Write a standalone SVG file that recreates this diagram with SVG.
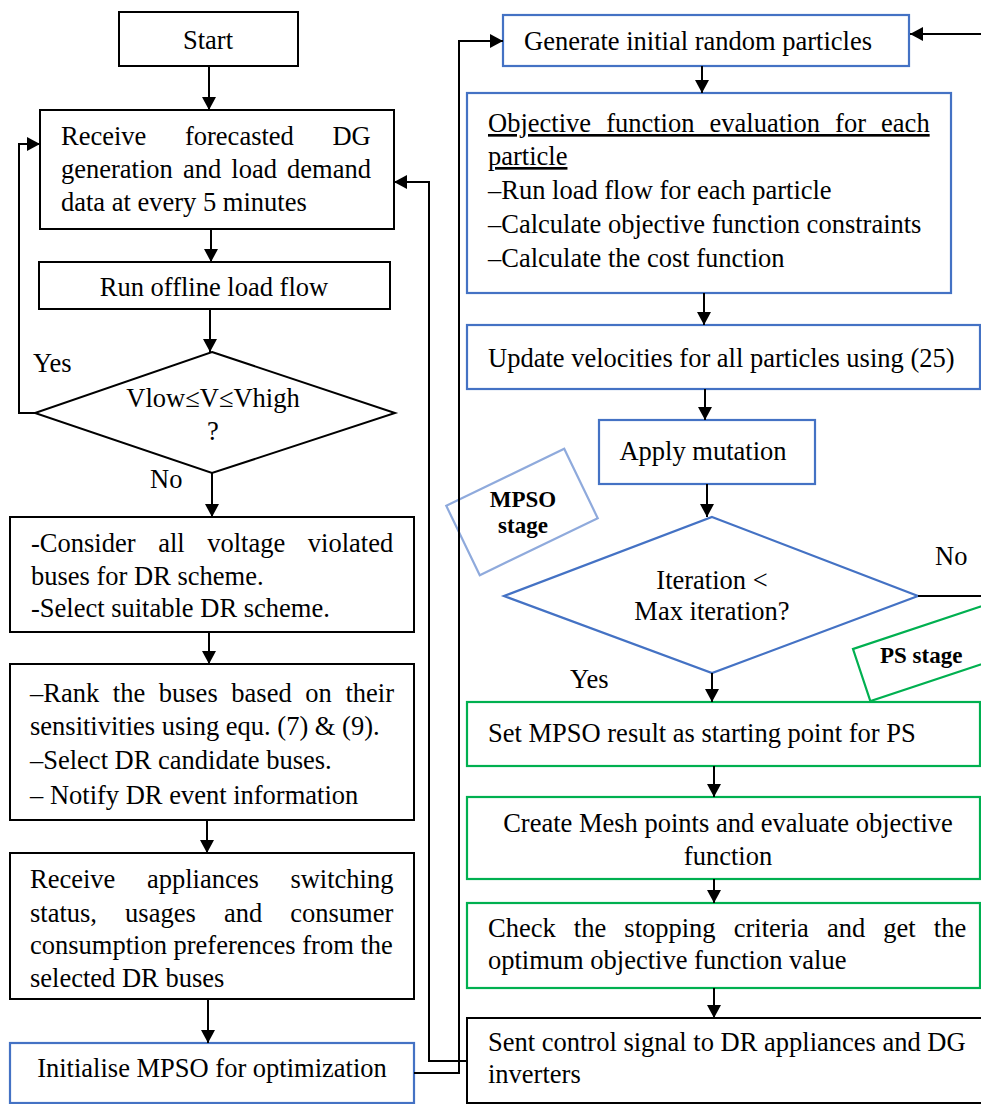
<svg xmlns="http://www.w3.org/2000/svg" width="981" height="1104" viewBox="0 0 981 1104">
<style>
text{font-family:"Liberation Serif","Times New Roman",serif;font-size:26.5px;fill:#000}
.c{text-anchor:middle}
.b{font-weight:bold;font-size:23px}
.u{text-decoration:underline}
.bk{fill:#fff;stroke:#000;stroke-width:2}
.bl{fill:#fff;stroke:#4472C4;stroke-width:2.2}
.gr{fill:#fff;stroke:#00B050;stroke-width:2.2}
.lb{fill:none;stroke:#8FAADC;stroke-width:2.2}
.pg{fill:none;stroke:#00B050;stroke-width:2.2}
.ln{fill:none;stroke:#000;stroke-width:2}
</style>
<defs>
<marker id="ah" markerUnits="userSpaceOnUse" markerWidth="14" markerHeight="14" refX="13" refY="7" orient="auto">
<path d="M0,0 L13,7 L0,14 z" fill="#000"/>
</marker>
</defs>

<g id="start"><rect class="bk" x="119" y="12" width="179" height="54"/><text class="c" x="208" y="49">Start</text></g>

<g id="receive"><rect class="bk" x="40" y="110" width="354" height="119"/>
<text x="61" y="145" word-spacing="32">Receive forecasted DG</text>
<text x="61" y="178" word-spacing="3.5">generation and load demand</text>
<text x="61" y="211">data at every 5 minutes</text></g>

<g id="runflow"><rect class="bk" x="39" y="262" width="351" height="47"/><text class="c" x="214" y="296">Run offline load flow</text></g>

<g id="decision1"><polygon class="bk" points="212,352 395,413 212,473 35,413"/>
<text class="c" x="213" y="407">Vlow≤V≤Vhigh</text><text class="c" x="213" y="440">?</text></g>

<g id="consider"><rect class="bk" x="10" y="517" width="404" height="115"/>
<text x="31" y="552" word-spacing="16">-Consider all voltage violated</text>
<text x="31" y="585">buses for DR scheme.</text>
<text x="31" y="617">-Select suitable DR scheme.</text></g>

<g id="rank"><rect class="bk" x="10" y="664" width="404" height="156"/>
<text x="30" y="702" word-spacing="7">–Rank the buses based on their</text>
<text x="30" y="735">sensitivities using equ. (7) &amp; (9).</text>
<text x="30" y="769">–Select DR candidate buses.</text>
<text x="30" y="804">– Notify DR event information</text></g>

<g id="appliances"><rect class="bk" x="10" y="853" width="404" height="146"/>
<text x="30" y="888" word-spacing="25">Receive appliances switching</text>
<text x="30" y="922" word-spacing="21.5">status, usages and consumer</text>
<text x="30" y="954">consumption preferences from the</text>
<text x="30" y="987">selected DR buses</text></g>

<g id="initialise"><rect class="bl" x="10" y="1043" width="404" height="60"/><text class="c" x="212" y="1077">Initialise MPSO for optimization</text></g>

<g id="generate"><rect class="bl" x="503" y="15" width="406" height="51"/><text x="524" y="50">Generate initial random particles</text></g>

<g id="objective"><rect class="bl" x="467" y="93" width="484" height="200"/>
<text class="u" x="488" y="132" word-spacing="8.5">Objective function evaluation for each</text>
<text class="u" x="488" y="165">particle</text>
<text x="488" y="199">–Run load flow for each particle</text>
<text x="488" y="233">–Calculate objective function constraints</text>
<text x="488" y="267">–Calculate the cost function</text></g>

<g id="update"><rect class="bl" x="467" y="325" width="513" height="64"/><text x="488" y="367">Update velocities for all particles using (25)</text></g>

<g id="mutation"><rect class="bl" x="599" y="420" width="216" height="64"/><text class="c" x="703" y="460">Apply mutation</text></g>

<g id="mpso-stage"><rect class="lb" x="-65.5" y="-38.5" width="131" height="77" transform="translate(522,512) rotate(-25.8)"/>
<text class="c b" x="523" y="507">MPSO</text><text class="c b" x="523" y="533">stage</text></g>

<g id="decision2"><polygon class="bl" points="712,517 918,596 712,673 504,596"/>
<text class="c" x="712" y="589">Iteration &lt;</text><text class="c" x="712" y="620">Max iteration?</text></g>

<g id="ps-stage"><rect class="pg" x="0" y="0" width="145" height="55" transform="translate(853,649) rotate(-18.4)"/>
<text class="b" x="880" y="663">PS stage</text></g>

<g id="setmpso"><rect class="gr" x="467" y="702" width="513" height="64"/><text x="488" y="742">Set MPSO result as starting point for PS</text></g>

<g id="mesh"><rect class="gr" x="467" y="797" width="513" height="82"/>
<text class="c" x="728" y="832">Create Mesh points and evaluate objective</text>
<text class="c" x="728" y="865">function</text></g>

<g id="check"><rect class="gr" x="467" y="903" width="513" height="85"/>
<text x="488" y="937" word-spacing="11.5">Check the stopping criteria and get the</text>
<text x="488" y="969">optimum objective function value</text></g>

<g id="sent"><rect class="bk" x="467" y="1018" width="520" height="85"/>
<text x="488" y="1051">Sent control signal to DR appliances and DG</text>
<text x="488" y="1083">inverters</text></g>

<g id="connectors">
<path class="ln" d="M209,66 V110" marker-end="url(#ah)"/>
<path class="ln" d="M211,229 V262" marker-end="url(#ah)"/>
<path class="ln" d="M210,309 V352" marker-end="url(#ah)"/>
<path class="ln" d="M35,413 H19 V144 H40" marker-end="url(#ah)"/>
<path class="ln" d="M212,473 V517" marker-end="url(#ah)"/>
<path class="ln" d="M209,632 V664" marker-end="url(#ah)"/>
<path class="ln" d="M207,820 V853" marker-end="url(#ah)"/>
<path class="ln" d="M208,999 V1043" marker-end="url(#ah)"/>
<path class="ln" d="M414,1073 H459 V41 H503" marker-end="url(#ah)"/>
<path class="ln" d="M467,1061 H429 V182 H394" marker-end="url(#ah)"/>
<path class="ln" d="M702,66 V93" marker-end="url(#ah)"/>
<path class="ln" d="M704,293 V325" marker-end="url(#ah)"/>
<path class="ln" d="M705,389 V420" marker-end="url(#ah)"/>
<path class="ln" d="M707,484 V517" marker-end="url(#ah)"/>
<path class="ln" d="M918,596 H985"/>
<path class="ln" d="M985,34 H910" marker-end="url(#ah)"/>
<path class="ln" d="M712,673 V702" marker-end="url(#ah)"/>
<path class="ln" d="M714,766 V797" marker-end="url(#ah)"/>
<path class="ln" d="M714,879 V903" marker-end="url(#ah)"/>
<path class="ln" d="M714,988 V1018" marker-end="url(#ah)"/>
<text x="33" y="372">Yes</text>
<text x="150" y="488">No</text>
<text x="935" y="565">No</text>
<text x="570" y="688">Yes</text>
</g>
</svg>
